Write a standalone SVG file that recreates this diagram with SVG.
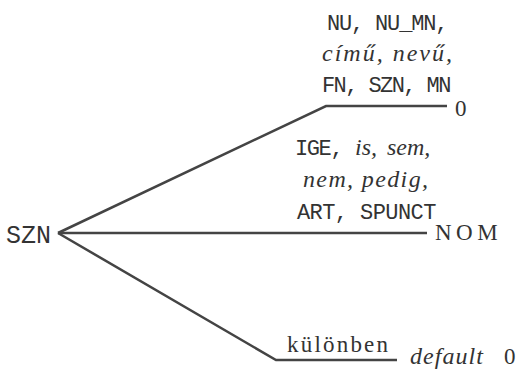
<svg xmlns="http://www.w3.org/2000/svg" width="517" height="370" viewBox="0 0 517 370">
<style>
.m{font-family:"Liberation Mono","DejaVu Sans Mono",monospace;font-size:22px;letter-spacing:-1.4px;fill:#333}
.i{font-family:"Liberation Serif","DejaVu Serif",serif;font-style:italic;font-size:24px;fill:#333}
.r{font-family:"Liberation Serif","DejaVu Serif",serif;font-size:23px;fill:#333}
.e{fill:none;stroke:#444;stroke-width:2.5}
</style>
<rect width="517" height="370" fill="#fff"/>
<g id="connectors">
<polyline class="e" points="58,233 326,106 447,106"/>
<polyline class="e" points="58,233 427,233"/>
<polyline class="e" points="58,233 276,360 397,360"/>
</g>
<g id="root"><text class="m" x="6" y="243" style="font-size:25px;letter-spacing:0">SZN</text></g>
<g id="n0">
<text class="m" x="327" y="30" textLength="120">NU, NU_MN,</text>
<text class="i" x="322" y="61" textLength="130">című, nevű,</text>
<text class="m" x="322" y="92" textLength="128">FN, SZN, MN</text>
<text class="r" x="455" y="116" font-size="24">0</text>
</g>
<g id="nom">
<text x="295" y="155"><tspan class="m">IGE,</tspan><tspan class="i" x="355" y="155">is,</tspan><tspan class="i" x="387" y="155">sem,</tspan></text>
<text class="i" x="303" y="187" textLength="125">nem, pedig,</text>
<text class="m" x="297" y="219" textLength="138">ART, SPUNCT</text>
<text class="r" x="435" y="240" font-size="18" letter-spacing="4.5">NOM</text>
</g>
<g id="default">
<text class="r" x="287" y="352" textLength="101">különben</text>
<text class="i" x="410" y="364" textLength="73">default</text>
<text class="r" x="504" y="364" font-size="24">0</text>
</g>
</svg>
